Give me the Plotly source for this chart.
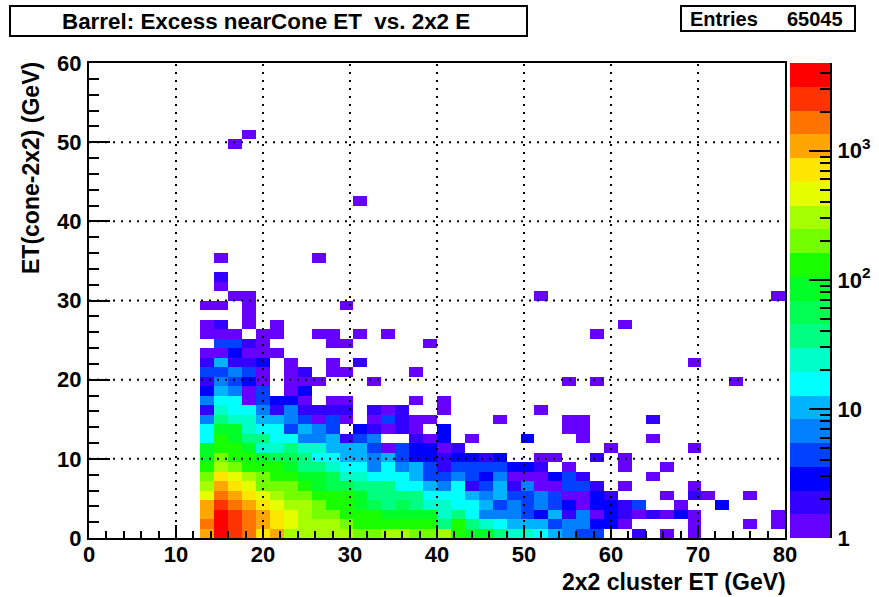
import math
import plotly.graph_objects as go

W, H = 879, 597
FONT = "Liberation Sans"

title_text = "Barrel: Excess nearCone ET\u00a0\u00a0vs. 2x2 E"
entries_label = "Entries"
entries_value = "65045"
x_title = "2x2 cluster ET (GeV)"
y_title = "ET(cone-2x2) (GeV)"

x_edges = [i * 1.6 for i in range(51)]
y_edges = [j * 1.2 for j in range(51)]
first_bin = 8

# counts per y bin, starting at x bin 8 (12.8 GeV); missing tail is empty
row_00 = [1070,3800,2500,1630,700,1070,300,300,300,300,300,200,200,300,300,200,200,300,130,85,85,37,24,24,16,10,7,5,5,0,0,2,0,1,0,1]
row_01 = [1630,3800,2500,1630,1070,700,460,300,300,300,200,130,130,130,130,130,130,37,130,37,24,16,10,10,10,5,7,7,3,3,1,0,0,0,0,1,0,0,0,1,0,1]
row_02 = [1070,3800,2500,1630,1070,700,460,300,200,200,130,130,130,85,85,85,85,24,37,16,7,7,7,5,3,10,2,7,1,3,2,1,2,1,3,1,0,0,0,0,0,1]
row_03 = [1070,2500,1630,1070,700,460,300,300,200,130,130,85,56,37,56,37,24,24,16,16,10,5,7,5,7,5,3,1,3,3,2,5,0,0,1,0,0,3]
row_04 = [460,1630,1070,700,460,300,200,200,130,130,130,85,37,37,37,37,16,16,16,10,7,10,5,5,7,5,1,1,3,2,0,0,0,1,0,2,1,0,0,1]
row_05 = [300,1070,700,460,200,200,200,130,85,56,56,37,37,37,16,16,10,7,16,2,5,10,2,7,1,1,5,5,2,0,1,0,0,0,0,1]
row_06 = [200,700,460,300,200,130,130,85,85,56,24,24,16,16,16,10,5,5,7,5,3,7,1,1,1,3,5,2,0,0,0,0,1]
row_07 = [130,300,200,130,130,130,85,37,37,24,16,16,7,16,7,10,5,2,5,5,5,5,3,3,2,0,1,0,0,0,1,0,0,1]
row_08 = [85,200,130,130,85,56,56,37,16,16,10,10,7,10,5,3,3,2,3,3,2,3,0,0,1,1,0,0,2,0,1]
row_09 = [85,130,130,85,24,24,37,24,24,10,10,10,5,1,5,3,3,1,2,0,0,0,0,0,0,0,0,0,0,1,0,0,0,0,0,1]
row_10 = [16,130,85,37,37,16,16,7,7,10,2,5,7,0,0,2,1,3,0,1,0,0,0,3,0,0,0,1,0,0,0,0,1]
row_11 = [16,85,85,24,16,16,5,10,7,5,0,3,2,1,2,1,0,3,0,0,0,0,0,0,0,0,1,1]
row_12 = [7,37,24,24,10,10,7,5,1,5,1,0,1,5,2,1,1,0,0,0,0,1,0,0,0,0,1,1,0,0,0,0,2]
row_13 = [2,24,16,16,7,2,7,2,2,2,2,0,2,1,2,0,0,1,0,0,0,0,0,0,1]
row_14 = [7,16,16,1,5,3,3,1,0,1,1,0,0,0,0,1,0,1]
row_15 = [3,10,7,1,5,0,1,3]
row_16 = [2,7,5,3,1,0,1,1,1,0,0,0,1,0,0,0,0,0,0,0,0,0,0,0,0,0,1,0,1,0,0,0,0,0,0,0,0,0,1]
row_17 = [5,5,7,5,1,0,1,2,0,1,1,0,0,0,0,1]
row_18 = [2,10,2,2,3,0,1,0,0,1,0,2,0,0,0,0,0,0,0,0,0,0,0,0,0,0,0,0,0,0,0,0,0,0,0,1]
row_19 = [1,1,3,1,1,1]
row_20 = [0,5,5,2,1,0,0,0,0,1,1,0,0,0,0,0,1]
row_21 = [1,1,1,0,1,1,0,0,1,1,0,1,0,1,0,0,0,0,0,0,0,0,0,0,0,0,0,0,1]
row_22 = [1,2,0,1,0,1,0,0,0,0,0,0,0,0,0,0,0,0,0,0,0,0,0,0,0,0,0,0,0,0,1]
row_23 = [0,0,0,1]
row_24 = [1,1,0,1,0,0,0,0,0,0,1]
row_25 = [0,0,1,1,0,0,0,0,0,0,0,0,0,0,0,0,0,0,0,0,0,0,0,0,1,0,0,0,0,0,0,0,0,0,0,0,0,0,0,0,0,1]
row_26 = [0,1]
row_27 = [0,2]
row_28 = []
row_29 = [0,1,0,0,0,0,0,0,1]
row_35 = [0,0,0,0,0,0,0,0,0,0,0,1]
row_41 = [0,0,1]
row_42 = [0,0,0,1]

rows = {0: row_00, 1: row_01, 2: row_02, 3: row_03, 4: row_04, 5: row_05, 6: row_06, 7: row_07,
        8: row_08, 9: row_09, 10: row_10, 11: row_11, 12: row_12, 13: row_13, 14: row_14,
        15: row_15, 16: row_16, 17: row_17, 18: row_18, 19: row_19, 20: row_20, 21: row_21,
        22: row_22, 23: row_23, 24: row_24, 25: row_25, 26: row_26, 27: row_27, 28: row_28,
        29: row_29, 35: row_35, 41: row_41, 42: row_42}

palette = ["#6600ff", "#3300ff", "#0000ff", "#0040ff", "#0080ff", "#00b3ff", "#00ffff",
           "#00ffc8", "#00ff80", "#00ff50", "#00ff26", "#1aff00", "#73ff00", "#a6ff00",
           "#e6ff00", "#ffe600", "#ffa600", "#ff7300", "#ff3300", "#ff0000"]
z_max_log = 3.68

x_major = [0, 10, 20, 30, 40, 50, 60, 70, 80]
y_major = [0, 10, 20, 30, 40, 50, 60]
bar_ticks = [1, 10, 100, 1000]
bar_labels = ["1", "10", "10<sup>2</sup>", "10<sup>3</sup>"]
bar_minor = [2, 3, 4, 5, 6, 7, 8, 9, 20, 30, 40, 50, 60, 70, 80, 90,
             200, 300, 400, 500, 600, 700, 800, 900, 2000, 3000, 4000]

# ---- geometry in pixels
PL, PR, PT, PB = 89, 785, 63, 538
BL, BR = 790, 830


def px(v):
    return v / W


def py(v):
    return 1 - v / H


n = len(palette)
scale = []
for i, c in enumerate(palette):
    scale += [[i / n, c], [(i + 1) / n, c]]

z = []
for j in range(50):
    row = rows.get(j, [])
    cells = [None] * 50
    for i, v in enumerate(row):
        if v > 0:
            cells[first_bin + i] = math.log10(v)
    z.append(cells)

fig = go.Figure()
fig.add_trace(go.Heatmap(x=x_edges, y=y_edges, z=z, colorscale=scale, zmin=0, zmax=z_max_log,
                         showscale=False, xaxis="x", yaxis="y", hoverongaps=False))

bar_edges = [10 ** (i * z_max_log / n) for i in range(n + 1)]
bar_z = [[(i + 0.5) * z_max_log / n] for i in range(n)]
fig.add_trace(go.Heatmap(x=[0, 1], y=bar_edges, z=bar_z, colorscale=scale, zmin=0, zmax=z_max_log,
                         showscale=False, xaxis="x2", yaxis="y2"))

tick_font = dict(family=FONT, size=22, color="black")
minor_x = dict(ticks="inside", dtick=2, ticklen=7, tickwidth=2, tickcolor="black", showgrid=False)
minor_y = dict(ticks="inside", dtick=2, ticklen=10, tickwidth=2, tickcolor="black", showgrid=False)

shapes = []
for v in x_major[1:-1]:
    shapes.append(dict(type="line", xref="x", yref="y", x0=v, x1=v, y0=0, y1=60, layer="above",
                       line=dict(color="black", width=2, dash="2px,6px")))
for v in y_major[1:-1]:
    shapes.append(dict(type="line", xref="x", yref="y", x0=0, x1=80, y0=v, y1=v, layer="above",
                       line=dict(color="black", width=2, dash="2px,6px")))
# title and stats boxes
for (a, b, c, d) in [(10, 527, 6, 36), (681, 855, 6, 31)]:
    shapes.append(dict(type="rect", xref="paper", yref="paper", x0=px(a), x1=px(b), y0=py(d), y1=py(c),
                       line=dict(color="black", width=2), fillcolor="white", layer="above"))

annotations = [
    dict(text=title_text, x=px(266), y=py(21), font=dict(family=FONT, size=22.4, color="black"),
         xanchor="center"),
    dict(text=entries_label, x=px(688), y=py(19), font=dict(family=FONT, size=20, color="black"),
         xanchor="left"),
    dict(text=entries_value, x=px(845), y=py(19), font=dict(family=FONT, size=20, color="black"),
         xanchor="right"),
    dict(text=x_title, x=px(788), y=py(582), font=dict(family=FONT, size=23, color="black"),
         xanchor="right"),
    dict(text=y_title, x=px(31), y=py(60), font=dict(family=FONT, size=23, color="black"),
         textangle=-90, xanchor="center", yanchor="top"),
]
for a in annotations:
    a.update(xref="paper", yref="paper", showarrow=False)
    a["text"] = "<b>" + a["text"] + "</b>"
    a.setdefault("yanchor", "middle")

fig.update_layout(
    width=W, height=H, autosize=False,
    margin=dict(l=0, r=0, t=0, b=0, autoexpand=False),
    paper_bgcolor="white", plot_bgcolor="white",
    shapes=shapes, annotations=annotations,
    xaxis=dict(domain=[px(PL), px(PR)], range=[0, 80], tickvals=x_major,
               ticktext=["<b>%d</b>" % v for v in x_major], automargin=False,
               ticks="inside", ticklen=13, tickwidth=2, tickcolor="black", tickfont=tick_font,
               minor=minor_x, showgrid=False, zeroline=False, showline=True, linewidth=2,
               linecolor="black", mirror=True, anchor="y", ticklabelstandoff=-4),
    yaxis=dict(domain=[py(PB), py(PT)], range=[0, 60], tickvals=y_major,
               ticktext=["<b>%d</b>" % v for v in y_major], automargin=False,
               ticks="inside", ticklen=21, tickwidth=2, tickcolor="black", tickfont=tick_font,
               minor=minor_y, showgrid=False, zeroline=False, showline=True, linewidth=2,
               linecolor="black", mirror=True, anchor="x", ticklabelstandoff=1),
    xaxis2=dict(domain=[px(BL), px(BR)], range=[0, 1], visible=False, anchor="y2", automargin=False),
    yaxis2=dict(domain=[py(PB), py(PT)], type="log", range=[0, z_max_log], side="right", anchor="x2",
                tickvals=bar_ticks, ticktext=["<b>%s</b>" % s for s in bar_labels], automargin=False,
                ticks="inside", ticklen=21, tickwidth=2, tickcolor="black", tickfont=tick_font,
                minor=dict(ticks="inside", tickvals=bar_minor, ticklen=10, tickwidth=2,
                           tickcolor="black", showgrid=False),
                showgrid=False, zeroline=False, showline=True, linewidth=2, linecolor="black",
                ticklabelstandoff=1),
)

# the page's default body margin would push the figure 8 px in from the window edge
fig.write_html("out.html", post_script="document.body.style.margin='0';",
               config=dict(displayModeBar=False))
